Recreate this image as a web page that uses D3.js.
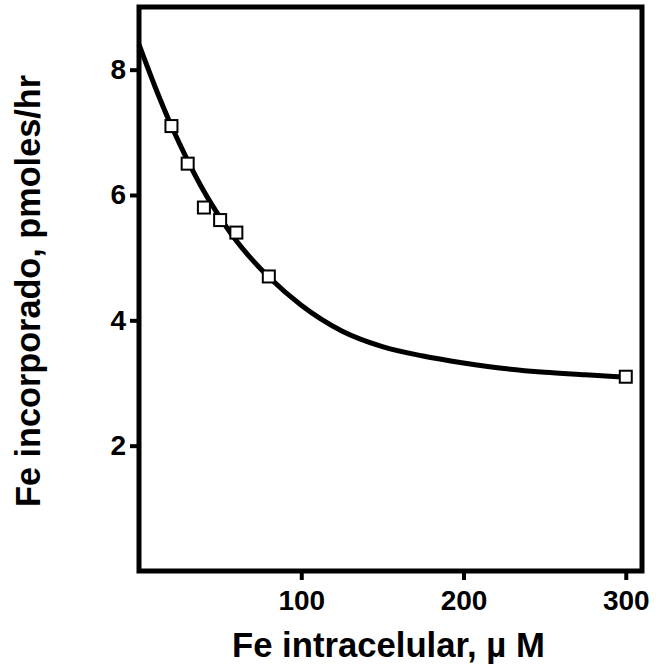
<!DOCTYPE html>
<html>
<head>
<meta charset="utf-8">
<script src="https://cdn.jsdelivr.net/npm/d3@7"></script>
<style>
  body { margin: 0; background: #fff; }
  text { font-family: "Liberation Sans", Arial, sans-serif; font-weight: bold; fill: #000; }
</style>
</head>
<body>
<div id="chart"></div>
<script>
// Measured points (Fe intracelular, uM vs Fe incorporado)
const pointX = [20, 30, 40, 50, 60, 80, 300];
const pointY = [7.1, 6.5, 5.8, 5.6, 5.4, 4.7, 3.1];

// Fitted curve
const curveX = [0, 10, 20, 30, 40, 50, 60, 70, 80, 100, 125, 150, 175, 200, 225, 250, 275, 300];
const curveY = [8.4, 7.72, 7.1, 6.55, 6.06, 5.64, 5.27, 4.96, 4.69, 4.24, 3.83, 3.58, 3.43, 3.32, 3.23, 3.17, 3.13, 3.09];

const xTicks = [100, 200, 300];
const yTicks = [2, 4, 6, 8];

const width = 660;
const height = 669;
const margin = { top: 7, right: 18, bottom: 98, left: 139 };

const svg = d3.select("#chart")
    .append("svg")
    .attr("width", width)
    .attr("height", height);

const xScale = d3.scaleLinear().domain([0, 310]).range([margin.left, width - margin.right]);
const yScale = d3.scaleLinear().domain([0, 9]).range([height - margin.bottom, margin.top]);

// curve
const line = d3.line()
    .x(d => xScale(d[0]))
    .y(d => yScale(d[1]))
    .curve(d3.curveMonotoneX);

svg.append("path")
    .datum(d3.zip(curveX, curveY))
    .attr("d", line)
    .attr("fill", "none")
    .attr("stroke", "#000")
    .attr("stroke-width", 5);

// square markers
const size = 12;
svg.selectAll("rect.pt")
    .data(d3.zip(pointX, pointY))
    .enter()
    .append("rect")
    .attr("class", "pt")
    .attr("x", d => xScale(d[0]) - size / 2)
    .attr("y", d => yScale(d[1]) - size / 2)
    .attr("width", size)
    .attr("height", size)
    .attr("fill", "#fff")
    .attr("stroke", "#000")
    .attr("stroke-width", 2);

// frame
svg.append("rect")
    .attr("x", margin.left)
    .attr("y", margin.top)
    .attr("width", width - margin.left - margin.right)
    .attr("height", height - margin.top - margin.bottom)
    .attr("fill", "none")
    .attr("stroke", "#000")
    .attr("stroke-width", 5);

// axes
const xAxis = svg.append("g")
    .attr("transform", `translate(0,${height - margin.bottom})`)
    .call(d3.axisBottom(xScale).tickValues(xTicks).tickSize(9).tickPadding(10));

const yAxis = svg.append("g")
    .attr("transform", `translate(${margin.left},0)`)
    .call(d3.axisLeft(yScale).tickValues(yTicks).tickSize(9).tickPadding(4));

[xAxis, yAxis].forEach(g => {
    g.select(".domain").remove();
    g.selectAll(".tick line").attr("stroke", "#000").attr("stroke-width", 4);
    g.selectAll(".tick text")
        .attr("font-family", "Liberation Sans, Arial, sans-serif")
        .attr("font-weight", "bold")
        .attr("font-size", 28)
        .attr("fill", "#000");
});

// labels, sized to the lengths seen in the figure
function fitText(sel, target) {
    const len = sel.node().getComputedTextLength();
    sel.attr("font-size", 30 * target / len);
}

const xTitle = svg.append("text")
    .attr("x", 232)
    .attr("y", 657)
    .attr("font-size", 30)
    .text("Fe intracelular, \u00b5 M");
fitText(xTitle, 313);

const yTitle = svg.append("text")
    .attr("text-anchor", "middle")
    .attr("font-size", 30)
    .attr("transform", "translate(40,291) rotate(-90)")
    .text("Fe incorporado, pmoles/hr");
fitText(yTitle, 432);
</script>
</body>
</html>
